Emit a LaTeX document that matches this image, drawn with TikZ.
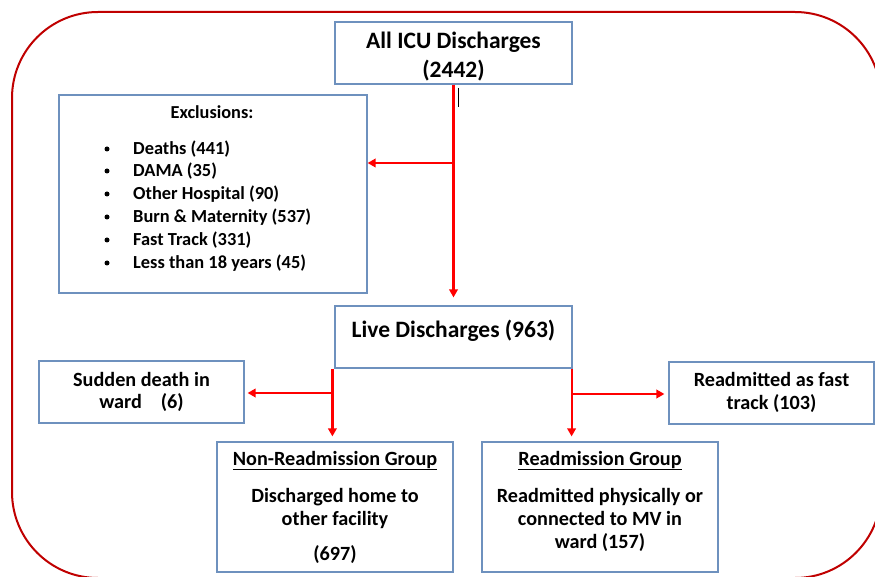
\documentclass[tikz,border=0pt]{standalone}
\usepackage{fontspec}
\setmainfont{Carlito}
\usetikzlibrary{arrows.meta,calc}
\definecolor{framered}{RGB}{192,0,0}
\definecolor{boxblue}{RGB}{110,145,190}
\definecolor{arrred}{RGB}{255,0,0}
\tikzset{
  box/.style={draw=boxblue, line width=1.2pt, inner sep=0pt, fill=white},
  arr/.style={draw=arrred, line width=2.2pt, -{Triangle[length=8pt,width=8.5pt]}},
  bigtxt/.style={font=\fontsize{23.5}{28}\selectfont\bfseries, inner sep=0pt, anchor=base},
  boxtxt/.style={font=\fontsize{20.2}{24}\selectfont\bfseries, inner sep=0pt, anchor=base},
  itemtxt/.style={font=\fontsize{18.4}{22}\selectfont\bfseries, inner sep=0pt, anchor=base west},
  excltxt/.style={font=\fontsize{18.3}{22}\selectfont\bfseries, inner sep=0pt, anchor=base},
  bul/.style={fill=black, circle, inner sep=0pt, minimum size=5pt}
}
\begin{document}
\begin{tikzpicture}[x=1pt,y=-1pt]
\useasboundingbox (0,0) rectangle (875,577);
\fill[white] (0,0) rectangle (875,577);
% outer frame
\draw[framered, line width=2pt, rounded corners=86pt] (12,12) rectangle (881,578);

% boxes
\node[box, minimum width=237pt, minimum height=62pt] (icu) at (453.5,53) {};
\node[box, minimum width=308pt, minimum height=198pt] (excl) at (213,194) {};
\node[box, minimum width=237pt, minimum height=62pt] (live) at (453.5,337) {};
\node[box, minimum width=205pt, minimum height=62pt] (sudden) at (141.5,392) {};
\node[box, minimum width=236pt, minimum height=130pt] (nonre) at (335,507) {};
\node[box, minimum width=236pt, minimum height=130pt] (readm) at (600,507) {};
\node[box, minimum width=205pt, minimum height=62pt] (fast) at (771.5,393) {};

% texts
\node[bigtxt] (t1) at (453.5,48.5) {All ICU Discharges};
\node[bigtxt] (t2) at (453.5,77.5) {(2442)};
\node[excltxt] (t3) at (212,119) {Exclusions:};
\foreach \y/\t [count=\i] in {149/{Deaths (441)},171/{DAMA (35)},194/{Other Hospital (90)},217/{Burn \& Maternity (537)},240/{Fast Track (331)},263/{Less than 18 years (45)}}{
  \node[bul] (b\i) at (107,\y) {};
  \node[itemtxt] (it\i) at (133,\y+6) {\t};
}
\node[bigtxt] (t4) at (453.5,337.5) {Live Discharges (963)};
\node[boxtxt] (t5) at (141.5,386) {Sudden death in};
\node[boxtxt] (t6) at (141.5,408) {ward\hspace{19pt}(6)};
\node[boxtxt] (t7) at (771.5,386.5) {Readmitted as fast};
\node[boxtxt] (t8) at (771.5,409) {track (103)};
\node[boxtxt] (t9) at (335,465) {\underline{Non-Readmission Group}};
\node[boxtxt] (t10) at (335,502) {Discharged home to};
\node[boxtxt] (t11) at (335,525) {other facility};
\node[boxtxt] (t12) at (335,560) {(697)};
\node[boxtxt] (t13) at (600,465) {\underline{Readmission Group}};
\node[boxtxt] (t14) at (600,502) {Readmitted physically or};
\node[boxtxt] (t15) at (600,525) {connected to MV in};
\node[boxtxt] (t16) at (600,548) {ward (157)};

% stray cursor mark
\coordinate (c1) at (458,88);
\coordinate (c2) at (458,107);
\draw[black, line width=0.8pt] (c1) -- (c2);

% connectors
\coordinate (br1) at (453.5,163);
\draw[arr, shorten >=8pt] (icu.south) -- (live.north);
\draw[arr] (br1) -- (br1 -| excl.east);

\coordinate (ls) at ([xshift=-2pt]live.south west);
\coordinate (br2) at (333,393);
\draw[arr, shorten >=5pt] (ls) -- (ls |- nonre.north);
\draw[arr, shorten >=3pt] (br2) -- (br2 -| sudden.east);

\coordinate (rs) at ([xshift=-1pt]live.south east);
\coordinate (br3) at (571,394);
\draw[arr, shorten >=5pt] (rs) -- (rs |- readm.north);
\draw[arr, shorten >=4pt] (br3) -- (br3 -| fast.west);
\end{tikzpicture}
\end{document}
